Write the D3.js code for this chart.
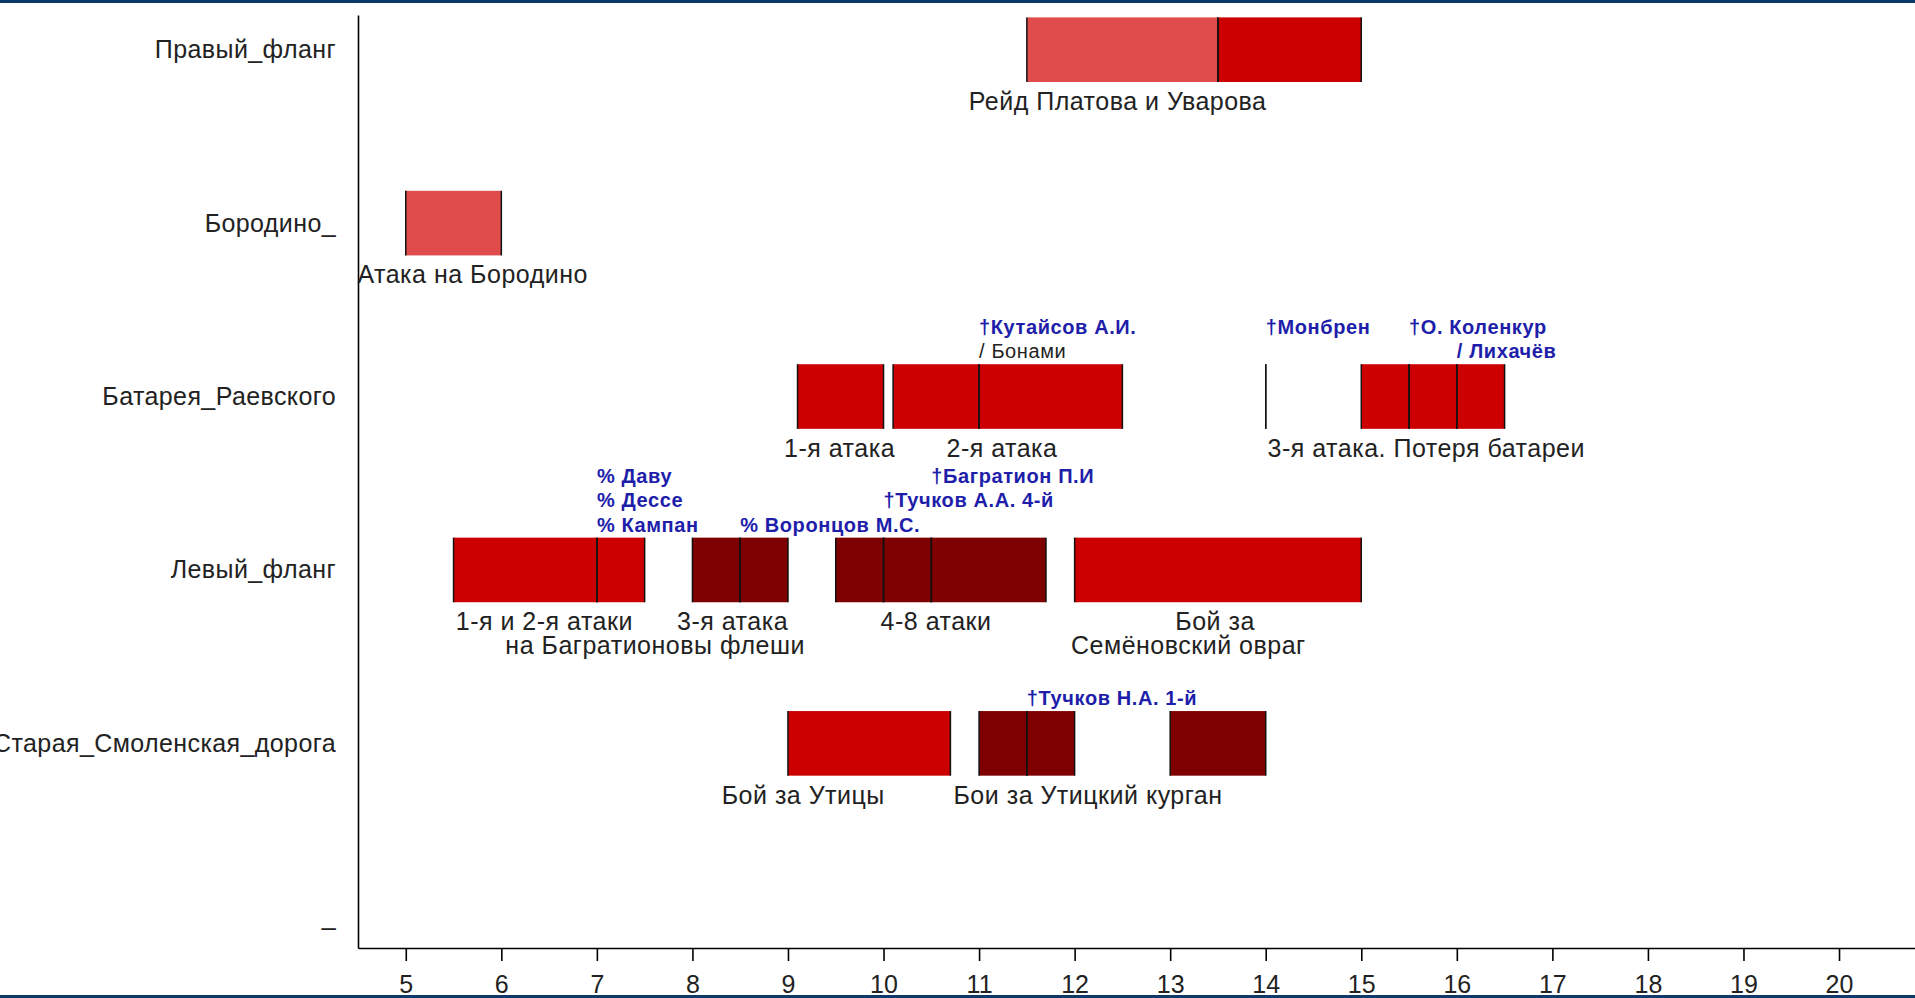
<!DOCTYPE html>
<html>
<head>
<meta charset="utf-8">
<script src="https://cdnjs.cloudflare.com/ajax/libs/d3/7.8.5/d3.min.js"></script>
<style>
  html, body { margin: 0; padding: 0; background: #fff; overflow: hidden; }
  svg { display: block; }
</style>
</head>
<body>
<div id="chart"></div>
<script>
// Rows of the timeline, top to bottom
const rows = ["Правый_фланг", "Бородино_", "Батарея_Раевского", "Левый_фланг", "Старая_Смоленская_дорога", "_"];

// Hour ticks on the x axis
const hours = [5, 6, 7, 8, 9, 10, 11, 12, 13, 14, 15, 16, 17, 18, 19, 20];

// Bar segments: row, start hour, end hour, tone
const segments = [
    ["Правый_фланг", 11.5, 13.5, "light"],
    ["Правый_фланг", 13.5, 15, "red"],
    ["Бородино_", 5, 6, "light"],
    ["Батарея_Раевского", 9.1, 10, "red"],
    ["Батарея_Раевского", 10.1, 11, "red"],
    ["Батарея_Раевского", 11, 12.5, "red"],
    ["Батарея_Раевского", 14, 14, "red"],
    ["Батарея_Раевского", 15, 15.5, "red"],
    ["Батарея_Раевского", 15.5, 16, "red"],
    ["Батарея_Раевского", 16, 16.5, "red"],
    ["Левый_фланг", 5.5, 7, "red"],
    ["Левый_фланг", 7, 7.5, "red"],
    ["Левый_фланг", 8, 8.5, "dark"],
    ["Левый_фланг", 8.5, 9, "dark"],
    ["Левый_фланг", 9.5, 10, "dark"],
    ["Левый_фланг", 10, 10.5, "dark"],
    ["Левый_фланг", 10.5, 11.7, "dark"],
    ["Левый_фланг", 12, 15, "red"],
    ["Старая_Смоленская_дорога", 9, 10.7, "red"],
    ["Старая_Смоленская_дорога", 11, 11.5, "dark"],
    ["Старая_Смоленская_дорога", 11.5, 12, "dark"],
    ["Старая_Смоленская_дорога", 13, 14, "dark"]
];

// Notes above the bars: row, hour, stack level, text, kind
const notes = [
    ["Батарея_Раевского", 11, 1, "†Кутайсов А.И.", "blue"],
    ["Батарея_Раевского", 11, 0, "/ Бонами", "black"],
    ["Батарея_Раевского", 14, 1, "†Монбрен", "blue"],
    ["Батарея_Раевского", 15.5, 1, "†О. Коленкур", "blue"],
    ["Батарея_Раевского", 16, 0, "/ Лихачёв", "blue"],
    ["Левый_фланг", 7, 2, "% Даву", "blue"],
    ["Левый_фланг", 7, 1, "% Дессе", "blue"],
    ["Левый_фланг", 7, 0, "% Кампан", "blue"],
    ["Левый_фланг", 8.5, 0, "% Воронцов М.С.", "blue"],
    ["Левый_фланг", 10, 1, "†Тучков А.А. 4-й", "blue"],
    ["Левый_фланг", 10.5, 2, "†Багратион П.И", "blue"],
    ["Старая_Смоленская_дорога", 11.5, 0, "†Тучков Н.А. 1-й", "blue"]
];

// Captions below the bars: row, centre hour, line, text
const captions = [
    ["Правый_фланг", 12.45, 0, "Рейд Платова и Уварова"],
    ["Бородино_", 5.7, 0, "Атака на Бородино"],
    ["Батарея_Раевского", 9.54, 0, "1-я атака"],
    ["Батарея_Раевского", 11.24, 0, "2-я атака"],
    ["Батарея_Раевского", 15.68, 0, "3-я атака. Потеря батареи"],
    ["Левый_фланг", 6.45, 0, "1-я и 2-я атаки"],
    ["Левый_фланг", 7.61, 1, "на Багратионовы флеши"],
    ["Левый_фланг", 8.42, 0, "3-я атака"],
    ["Левый_фланг", 10.55, 0, "4-8 атаки"],
    ["Левый_фланг", 13.47, 0, "Бой за"],
    ["Левый_фланг", 13.19, 1, "Семёновский овраг"],
    ["Старая_Смоленская_дорога", 9.16, 0, "Бой за Утицы"],
    ["Старая_Смоленская_дорога", 12.14, 0, "Бои за Утицкий курган"]
];

const tones = { light: "#e04b4b", red: "#cc0000", dark: "#7f0000" };
const noteColors = { blue: "#1e1eaa", black: "#222" };
const font = "'Liberation Sans', Arial, sans-serif";

const width = 1915, height = 998;
const barHalf = 32.3;

const svg = d3.select("#chart")
    .append("svg")
    .attr("width", width)
    .attr("height", height);

// Frame bands at top and bottom
svg.append("rect").attr("x", 0).attr("y", 0).attr("width", width).attr("height", 3).attr("fill", "#0d3a6b");
svg.append("rect").attr("x", 0).attr("y", height - 3).attr("width", width).attr("height", 3).attr("fill", "#0d3a6b");

// Scales
const x = d3.scaleLinear()
    .domain([4.5, 21])
    .range([358, 358 + 16.5 * 95.55]);

const y = d3.scaleLinear()
    .domain([-0.2, 5.18])
    .range([15, 948]);

const rowY = (name) => y(rows.indexOf(name));

// X axis
const xAxis = svg.append("g")
    .attr("transform", "translate(0,948)")
    .call(d3.axisBottom(x).tickValues(hours).tickSize(13).tickSizeOuter(0).tickPadding(14));
xAxis.select(".domain").attr("stroke-width", 1.6);
xAxis.selectAll(".tick line").attr("stroke-width", 1.6);
xAxis.selectAll("text")
    .style("font-family", font)
    .style("font-size", "25px")
    .attr("fill", "#222");

// Y axis
const yAxis = svg.append("g")
    .attr("transform", "translate(358,0)")
    .call(d3.axisLeft(y)
        .tickValues(d3.range(rows.length))
        .tickFormat((i) => rows[i])
        .tickSize(0)
        .tickPadding(22)
        .tickSizeOuter(0));
yAxis.select(".domain").attr("stroke-width", 1.6);
yAxis.selectAll("text")
    .style("font-family", font)
    .style("font-size", "25px")
    .style("letter-spacing", "0.4px")
    .attr("fill", "#222");

// Bars
svg.append("g")
    .selectAll("rect")
    .data(segments.filter((d) => d[2] > d[1]))
    .join("rect")
    .attr("x", (d) => x(d[1]))
    .attr("y", (d) => rowY(d[0]) - barHalf)
    .attr("width", (d) => x(d[2]) - x(d[1]))
    .attr("height", barHalf * 2)
    .attr("fill", (d) => tones[d[3]]);

// Boundary lines at the start and end of each segment
const edges = segments.flatMap((d) => [[d[0], d[1]], [d[0], d[2]]]);
svg.append("g")
    .selectAll("line")
    .data(edges)
    .join("line")
    .attr("x1", (d) => x(d[1]))
    .attr("x2", (d) => x(d[1]))
    .attr("y1", (d) => rowY(d[0]) - barHalf)
    .attr("y2", (d) => rowY(d[0]) + barHalf)
    .attr("stroke", "#111")
    .attr("stroke-width", 1.5);

// Notes above bars
svg.append("g")
    .selectAll("text")
    .data(notes)
    .join("text")
    .attr("x", (d) => x(d[1]))
    .attr("y", (d) => rowY(d[0]) - barHalf - 6 - d[2] * 24.4)
    .attr("text-anchor", "start")
    .style("font-family", font)
    .style("font-size", "20px")
    .style("letter-spacing", "0.6px")
    .style("font-weight", (d) => d[4] === "blue" ? "bold" : "normal")
    .attr("fill", (d) => noteColors[d[4]])
    .text((d) => d[3]);

// Captions below bars
svg.append("g")
    .selectAll("text")
    .data(captions)
    .join("text")
    .attr("x", (d) => x(d[1]))
    .attr("y", (d) => rowY(d[0]) + barHalf + 28 + d[2] * 24)
    .attr("text-anchor", "middle")
    .style("font-family", font)
    .style("font-size", "25px")
    .style("letter-spacing", "0.5px")
    .attr("fill", "#222")
    .text((d) => d[3]);
</script>
</body>
</html>
